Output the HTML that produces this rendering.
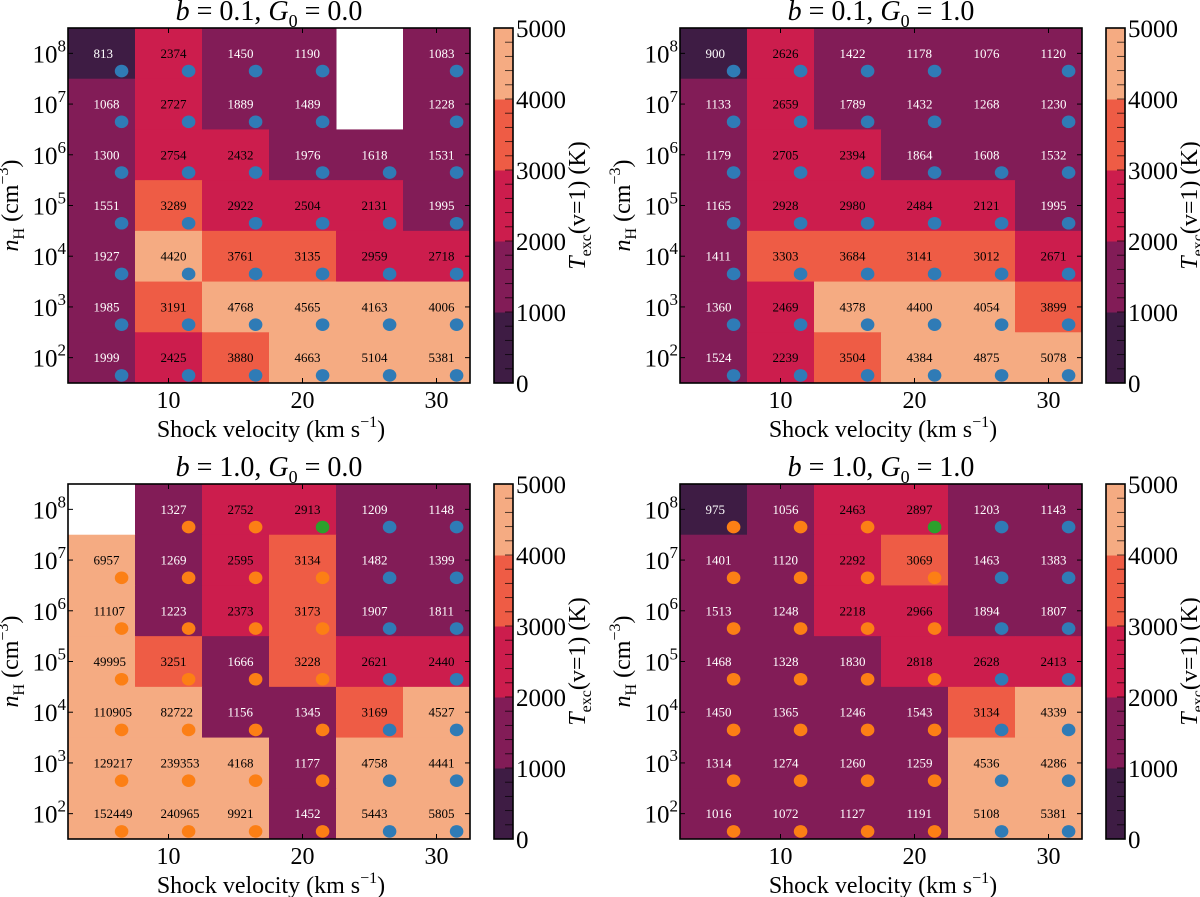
<!DOCTYPE html>
<html><head><meta charset="utf-8">
<style>
html,body{margin:0;padding:0;background:#fff;}
svg{display:block;font-family:"Liberation Serif",serif;}
</style></head>
<body>
<svg id="fig" width="1200" height="897" viewBox="0 0 1200 897" xmlns="http://www.w3.org/2000/svg"></svg>
<script>
const velocities=[5,10,15,20,25,30];
const logDensities=[8,7,6,5,4,3,2];
const xTicks=[10,20,30];
const yTicks=[2,3,4,5,6,7,8];
const cbTicks=[0,1000,2000,3000,4000,5000];
const titlesB=["0.1","0.1","1.0","1.0"];
const titlesG=["0.0","1.0","0.0","1.0"];
const valsTL=[[813,2374,1450,1190,null,1083],[1068,2727,1889,1489,null,1228],[1300,2754,2432,1976,1618,1531],[1551,3289,2922,2504,2131,1995],[1927,4420,3761,3135,2959,2718],[1985,3191,4768,4565,4163,4006],[1999,2425,3880,4663,5104,5381]];
const valsTR=[[900,2626,1422,1178,1076,1120],[1133,2659,1789,1432,1268,1230],[1179,2705,2394,1864,1608,1532],[1165,2928,2980,2484,2121,1995],[1411,3303,3684,3141,3012,2671],[1360,2469,4378,4400,4054,3899],[1524,2239,3504,4384,4875,5078]];
const valsBL=[[null,1327,2752,2913,1209,1148],[6957,1269,2595,3134,1482,1399],[11107,1223,2373,3173,1907,1811],[49995,3251,1666,3228,2621,2440],[110905,82722,1156,1345,3169,4527],[129217,239353,4168,1177,4758,4441],[152449,240965,9921,1452,5443,5805]];
const valsBR=[[975,1056,2463,2897,1203,1143],[1401,1120,2292,3069,1463,1383],[1513,1248,2218,2966,1894,1807],[1468,1328,1830,2818,2628,2413],[1450,1365,1246,1543,3134,4339],[1314,1274,1260,1259,4536,4286],[1016,1072,1127,1191,5108,5381]];
const dotsTop=[["b","b","b","b","","b"],["b","b","b","b","","b"],["b","b","b","b","b","b"],["b","b","b","b","b","b"],["b","b","b","b","b","b"],["b","b","b","b","b","b"],["b","b","b","b","b","b"]];
const dotsBL=[["","o","o","g","b","b"],["o","o","o","o","b","b"],["o","o","o","o","b","b"],["o","o","o","o","b","b"],["o","o","o","o","b","b"],["o","o","o","o","b","b"],["o","o","o","o","b","b"]];
const dotsBR=[["o","o","o","g","b","b"],["o","o","o","o","b","b"],["o","o","o","o","b","b"],["o","o","o","o","b","b"],["o","o","o","o","b","b"],["o","o","o","o","b","b"],["o","o","o","o","b","b"]];

const NS="http://www.w3.org/2000/svg";
const svg=document.getElementById('fig');
const binColors=["#3e1c44","#821c57","#cc1d4d","#ee5c45","#f5ab82"];
const dotColors={b:"#2f7bb6",o:"#fc7f15",g:"#2ca02c"};
function colorFor(v){let i=Math.floor(v/1000);if(i>4)i=4;if(i<0)i=0;return binColors[i];}
function mk(tag,attrs,parent){const e=document.createElementNS(NS,tag);for(const k in attrs)e.setAttribute(k,attrs[k]);(parent||svg).appendChild(e);return e;}

function panel(idx,ox,oy,vals,dots){
  const L=68+ox,R=470+ox,T=28+oy,B=383+oy;
  const g=mk('g',{});
  
  
  const xs=v=>L+(v-2.5)/30*(R-L);
  const ys=l=>T+(8.5-l)/7*(B-T);
  for(let r=0;r<logDensities.length;r++){
    for(let c=0;c<velocities.length;c++){
      const v=vals[r][c];
      if(v===null)continue;
      const x0=xs(velocities[c]-2.5),x1=xs(velocities[c]+2.5);
      const y0=ys(logDensities[r]+0.5),y1=ys(logDensities[r]-0.5);
      const rc=mk('rect',{x:x0,y:y0,width:x1-x0+0.5,height:y1-y0+0.5,fill:colorFor(v)},g);
      
      
    }
  }
  for(let r=0;r<logDensities.length;r++){
    for(let c=0;c<velocities.length;c++){
      const v=vals[r][c];
      if(v!==null){
        const t=mk('text',{x:xs(velocities[c]-0.6),y:ys(logDensities[r])+4.5,'font-size':'13',fill:v<2000?'#fff':'#000'},g);
        t.textContent=String(v);
        
        
      }
      const d=dots[r][c];
      if(d){
        const ci=mk('ellipse',{cx:xs(velocities[c]+1.5),cy:ys(logDensities[r]-0.35),rx:6.8,ry:6.3,fill:dotColors[d]},g);
        
        
      }
    }
  }
  const fr=mk('rect',{x:L,y:T,width:R-L,height:B-T,fill:'none',stroke:'#000','stroke-width':1.6},g);
  
  
  xTicks.forEach(tv=>{
    const x=xs(tv);
    mk('line',{x1:x,y1:B,x2:x,y2:B-5,stroke:'#000','stroke-width':1},g);
    mk('line',{x1:x,y1:T,x2:x,y2:T+5,stroke:'#000','stroke-width':1},g);
    const t=mk('text',{x:x,y:B+25,'font-size':'24','text-anchor':'middle'},g);
    t.textContent=String(tv);
    
    
  });
  yTicks.forEach(tv=>{
    const y=ys(tv);
    mk('line',{x1:L,y1:y,x2:L+5,y2:y,stroke:'#000','stroke-width':1},g);
    mk('line',{x1:R,y1:y,x2:R-5,y2:y,stroke:'#000','stroke-width':1},g);
    const t=mk('text',{x:L-2,y:y+9,'font-size':'25','text-anchor':'end'},g);
    
    
    const a=mk('tspan',{},t);a.textContent='10';
    const s=mk('tspan',{'font-size':'17',dy:'-11'},t);s.textContent=String(tv);
  });
  const xl=mk('text',{x:(L+R)/2+2,y:B+54,'font-size':'24','text-anchor':'middle'},g);
  
  
  mk('tspan',{},xl).textContent='Shock velocity (km s';
  mk('tspan',{'font-size':'16',dy:'-10'},xl).textContent='−1';
  mk('tspan',{dy:'10'},xl).textContent=')';
  const yl=mk('text',{transform:`translate(${L-50},${(T+B)/2}) rotate(-90)`,'font-size':'24','text-anchor':'middle'},g);
  
  
  mk('tspan',{'font-style':'italic'},yl).textContent='n';
  mk('tspan',{'font-size':'16',dy:'6'},yl).textContent='H';
  mk('tspan',{dy:'-6'},yl).textContent=' (cm';
  mk('tspan',{'font-size':'16',dy:'-10'},yl).textContent='−3';
  mk('tspan',{dy:'10'},yl).textContent=')';
  const ti=mk('text',{x:(L+R)/2,y:T-8,'font-size':'28','text-anchor':'middle'},g);
  
  
  mk('tspan',{'font-style':'italic'},ti).textContent='b';
  mk('tspan',{},ti).textContent=' = '+titlesB[idx]+', ';
  mk('tspan',{'font-style':'italic'},ti).textContent='G';
  mk('tspan',{'font-size':'18',dy:'7'},ti).textContent='0';
  mk('tspan',{dy:'-7'},ti).textContent=' = '+titlesG[idx];
  const cL=494+ox,cR=513+ox;
  const cs=v=>B-(v/5000)*(B-T);
  const cb=mk('g',{},g);
  
  
  for(let i=0;i<5;i++){
    mk('rect',{x:cL,y:cs((i+1)*1000),width:cR-cL,height:cs(i*1000)-cs((i+1)*1000)+0.5,fill:binColors[i]},cb);
  }
  for(let v=200;v<5000;v+=200){
    mk('line',{x1:cR-8,y1:cs(v),x2:cR,y2:cs(v),stroke:'#000','stroke-width':0.9,opacity:0.75},cb);
  }
  mk('rect',{x:cL,y:T,width:cR-cL,height:B-T,fill:'none',stroke:'#000','stroke-width':1.6},cb);
  cbTicks.forEach(tv=>{
    const t=mk('text',{x:cR+3,y:cs(tv)+9,'font-size':'25'},cb);
    t.textContent=String(tv);
    
    
  });
  const cl=mk('text',{transform:`translate(${cR+72},${(T+B)/2}) rotate(-90)`,'font-size':'24','text-anchor':'middle'},cb);
  
  
  mk('tspan',{'font-style':'italic'},cl).textContent='T';
  mk('tspan',{'font-size':'16',dy:'6'},cl).textContent='exc';
  mk('tspan',{dy:'-6'},cl).textContent='(v=1) (K)';
}
panel(0,0,0,valsTL,dotsTop);
panel(1,612,0,valsTR,dotsTop);
panel(2,0,456,valsBL,dotsBL);
panel(3,612,456,valsBR,dotsBR);
</script>
</body></html>
